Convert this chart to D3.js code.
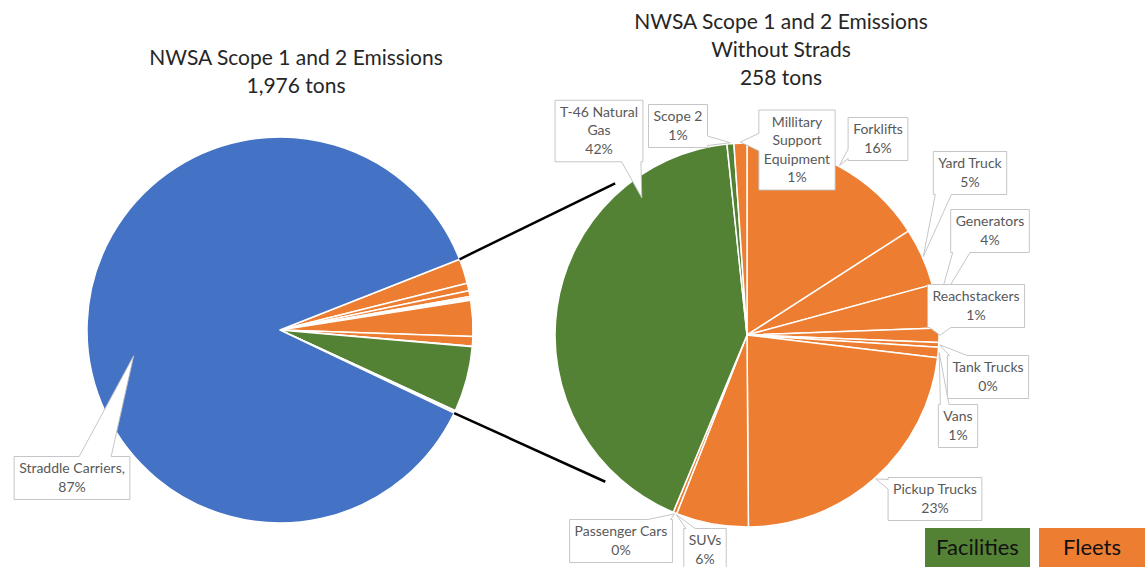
<!DOCTYPE html>
<html>
<head>
<meta charset="utf-8">
<script src="https://cdn.jsdelivr.net/npm/d3@7"></script>
<style>
  html, body { margin: 0; padding: 0; background: #fff; }
  svg { display: block; font-family: Lato, "Open Sans", sans-serif; }
</style>
</head>
<body>
<svg id="chart" width="1145" height="567"></svg>
<script>
// ---------------- DATA ----------------
const categories = ["Forklifts", "Yard Truck", "Generators", "Reachstackers", "Tank Trucks", "Vans",
  "Pickup Trucks", "SUVs", "Passenger Cars", "T-46 Natural Gas", "Scope 2", "Millitary Support Equipment"];
const groups = ["Fleets", "Fleets", "Fleets", "Fleets", "Fleets", "Fleets",
  "Fleets", "Fleets", "Fleets", "Facilities", "Facilities", "Fleets"];
const tons = [41.0, 12.6, 9.4, 3.1, 1.0, 2.3, 59.3, 15.7, 0.8, 108.5, 1.5, 2.8];
const stradsCategory = "Straddle Carriers";
const stradsTons = 1718;
const totalTons = 1976;
const withoutStradsTons = 258;
const legendGroups = ["Facilities", "Fleets"];
const leftTitle = ["NWSA Scope 1 and 2 Emissions", d3.format(",")(totalTons) + " tons"];
const rightTitle = ["NWSA Scope 1 and 2 Emissions", "Without Strads", withoutStradsTons + " tons"];

// ---------------- LAYOUT / STYLE ----------------
const W = 1145, H = 567;
const colors = { "Facilities": "#548235", "Fleets": "#ED7D31", "Strads": "#4472C4" };
const leftPie = { cx: 280, cy: 330, r: 193, wedgeCenterDeg: 92 };
const rightPie = { cx: 747, cy: 335, r: 192 };
const labelFont = 14, labelLineH = 18.5, padX = 5, padY = 3;
const labelColor = "#595959";
const wrap = { "T-46 Natural Gas": ["T-46 Natural", "Gas"], "Millitary Support Equipment": ["Millitary", "Support", "Equipment"] };
// box centres relative to pie centre; optional tip override (deg, fraction of radius)
const rightLabelLayout = {
  "T-46 Natural Gas": { dx: -148, dy: -204, tipDeg: 322.5, tipR: 0.9 },
  "Scope 2": { dx: -69, dy: -209 },
  "Millitary Support Equipment": { dx: 50, dy: -185 },
  "Forklifts": { dx: 131, dy: -196 },
  "Yard Truck": { dx: 223, dy: -162 },
  "Generators": { dx: 243, dy: -104 },
  "Reachstackers": { dx: 229, dy: -29 },
  "Tank Trucks": { dx: 241, dy: 42 },
  "Vans": { dx: 211, dy: 91 },
  "Pickup Trucks": { dx: 188, dy: 164 },
  "Passenger Cars": { dx: -126, dy: 206 },
  "SUVs": { dx: -42, dy: 215, tipAtEnd: true }
};
const leftLabelLayout = { "Straddle Carriers": { dx: -208, dy: 148, tipDeg: 260, tipR: 0.77, sep: ",", baseFrac: 0.7, baseW: 32 } };

const svg = d3.select("#chart");
const rad = d => d * Math.PI / 180;
const pt = (cx, cy, a, r) => [cx + r * Math.sin(a), cy - r * Math.cos(a)];

// ---------------- LEFT PIE ----------------
const leftData = categories.map((c, i) => ({ name: c, group: groups[i], value: tons[i] }))
  .concat([{ name: stradsCategory, group: "Strads", value: stradsTons }]);
const leftSum = d3.sum(leftData, d => d.value);
const othersSpan = 2 * Math.PI * withoutStradsTons / leftSum;
const leftStart = rad(leftPie.wedgeCenterDeg) - othersSpan / 2;
const leftArcs = d3.pie().sort(null).value(d => d.value)
  .startAngle(leftStart).endAngle(leftStart + 2 * Math.PI)(leftData);
const leftArc = d3.arc().innerRadius(0).outerRadius(leftPie.r);

const gL = svg.append("g").attr("transform", `translate(${leftPie.cx},${leftPie.cy})`);
gL.selectAll("path").data(leftArcs).join("path")
  .attr("d", leftArc)
  .attr("fill", d => colors[d.data.group])
  .attr("stroke", "#fff").attr("stroke-width", 1.5).attr("stroke-linejoin", "round");

// ---------------- RIGHT PIE ----------------
const rightData = categories.map((c, i) => ({ name: c, group: groups[i], value: tons[i] }));
const rightSum = d3.sum(rightData, d => d.value);
const rightArcs = d3.pie().sort(null).value(d => d.value)(rightData);
const rightArc = d3.arc().innerRadius(0).outerRadius(rightPie.r);

// connector lines
const wedgeStart = leftStart, wedgeEnd = leftStart + othersSpan;
const connectors = [
  { from: pt(leftPie.cx, leftPie.cy, wedgeStart, leftPie.r), to: pt(rightPie.cx, rightPie.cy, rad(319), rightPie.r + 9) },
  { from: pt(leftPie.cx, leftPie.cy, wedgeEnd, leftPie.r), to: pt(rightPie.cx, rightPie.cy, rad(224), rightPie.r + 12) }
];
svg.append("g").selectAll("line").data(connectors).join("line")
  .attr("x1", d => d.from[0]).attr("y1", d => d.from[1])
  .attr("x2", d => d.to[0]).attr("y2", d => d.to[1])
  .attr("stroke", "#000").attr("stroke-width", 2.5);

const gR = svg.append("g").attr("transform", `translate(${rightPie.cx},${rightPie.cy})`);
gR.selectAll("path").data(rightArcs).join("path")
  .attr("d", rightArc)
  .attr("fill", d => colors[d.data.group])
  .attr("stroke", "#fff").attr("stroke-width", 1.5).attr("stroke-linejoin", "round");

// ---------------- CALLOUTS ----------------
function calloutPath(x0, y0, x1, y1, tx, ty, opt) {
  const cx = (x0 + x1) / 2, cy = (y0 + y1) / 2, hw = (x1 - x0) / 2, hh = (y1 - y0) / 2;
  const nx = (tx - cx) / hw, ny = (ty - cy) / hh;
  const p = d3.path();
  if (Math.abs(nx) <= 1 && Math.abs(ny) <= 1) {
    p.rect(x0, y0, x1 - x0, y1 - y0); return p.toString();
  }
  let edge;
  if (Math.abs(nx) > Math.abs(ny)) edge = nx > 0 ? "right" : "left";
  else edge = ny > 0 ? "bottom" : "top";
  const horiz = edge === "top" || edge === "bottom";
  const a = horiz ? x0 : y0, b = horiz ? x1 : y1;
  const len = b - a;
  const w = opt.baseW || Math.max(8, Math.min(26, len * 0.22));
  const t = opt.baseFrac !== undefined ? a + len * opt.baseFrac : (horiz ? tx : ty);
  const bc = Math.max(a + w / 2 + 2, Math.min(b - w / 2 - 2, t));
  p.moveTo(x0, y0);
  if (edge === "top") { p.lineTo(bc - w / 2, y0); p.lineTo(tx, ty); p.lineTo(bc + w / 2, y0); }
  p.lineTo(x1, y0);
  if (edge === "right") { p.lineTo(x1, bc - w / 2); p.lineTo(tx, ty); p.lineTo(x1, bc + w / 2); }
  p.lineTo(x1, y1);
  if (edge === "bottom") { p.lineTo(bc + w / 2, y1); p.lineTo(tx, ty); p.lineTo(bc - w / 2, y1); }
  p.lineTo(x0, y1);
  if (edge === "left") { p.lineTo(x0, bc + w / 2); p.lineTo(tx, ty); p.lineTo(x0, bc - w / 2); }
  p.closePath();
  return p.toString();
}

const pctFmt = v => Math.round(v * 100) + "%";
const layer = svg.append("g");

function drawLabels(arcs, sum, pie, layout) {
  arcs.forEach(d => {
    const L = layout[d.data.name];
    if (!L) return;
    const lines = (wrap[d.data.name] ? wrap[d.data.name].slice() : [d.data.name + (L.sep || "")]);
    lines.push(pctFmt(d.data.value / sum));
    let ta, tr;
    if (L.tipDeg !== undefined) { ta = rad(L.tipDeg); tr = pie.r * L.tipR; }
    else if (L.tipAtEnd) { ta = d.endAngle; tr = pie.r + 1; }
    else { ta = (d.startAngle + d.endAngle) / 2; tr = pie.r + 1; }
    const [tx, ty] = pt(pie.cx, pie.cy, ta, tr);
    const g = layer.append("g");
    const txt = g.append("text")
      .attr("font-size", labelFont).attr("fill", labelColor).attr("text-anchor", "middle");
    lines.forEach((s, i) => txt.append("tspan").attr("x", 0).attr("y", i * labelLineH).text(s));
    const tw = d3.max(txt.selectAll("tspan").nodes(), n => n.getComputedTextLength());
    const bw = tw + 2 * padX, bh = lines.length * labelLineH + 2 * padY;
    const bx = pie.cx + L.dx, by = pie.cy + L.dy;
    const x0 = bx - bw / 2, y0 = by - bh / 2;
    g.insert("path", "text")
      .attr("d", calloutPath(x0, y0, x0 + bw, y0 + bh, tx, ty, L))
      .attr("fill", "#fff").attr("stroke", "#BFBFBF").attr("stroke-width", 0.9);
    txt.attr("transform", `translate(${bx},${y0 + padY + labelLineH * 0.74})`);
  });
}
drawLabels(rightArcs, rightSum, rightPie, rightLabelLayout);
drawLabels(leftArcs, leftSum, leftPie, leftLabelLayout);

// ---------------- TITLES ----------------
function title(lines, x, y0, lh) {
  const t = svg.append("text").attr("text-anchor", "middle").attr("font-size", 21).attr("fill", "#262626");
  lines.forEach((s, i) => t.append("tspan").attr("x", x).attr("y", y0 + i * lh).text(s));
}
title(leftTitle, 296, 65, 28);
title(rightTitle, 781, 29, 28);

// ---------------- LEGEND ----------------
const legendBoxes = [{ x: 925, w: 105 }, { x: 1039, w: 106 }];
const lg = svg.append("g").selectAll("g").data(legendGroups).join("g");
lg.append("rect")
  .attr("x", (d, i) => legendBoxes[i].x).attr("y", 528)
  .attr("width", (d, i) => legendBoxes[i].w).attr("height", 40)
  .attr("fill", d => colors[d]);
lg.append("text")
  .attr("x", (d, i) => legendBoxes[i].x + legendBoxes[i].w / 2).attr("y", 555)
  .attr("text-anchor", "middle").attr("font-size", 22).attr("fill", "#111")
  .text(d => d);
</script>
</body>
</html>
